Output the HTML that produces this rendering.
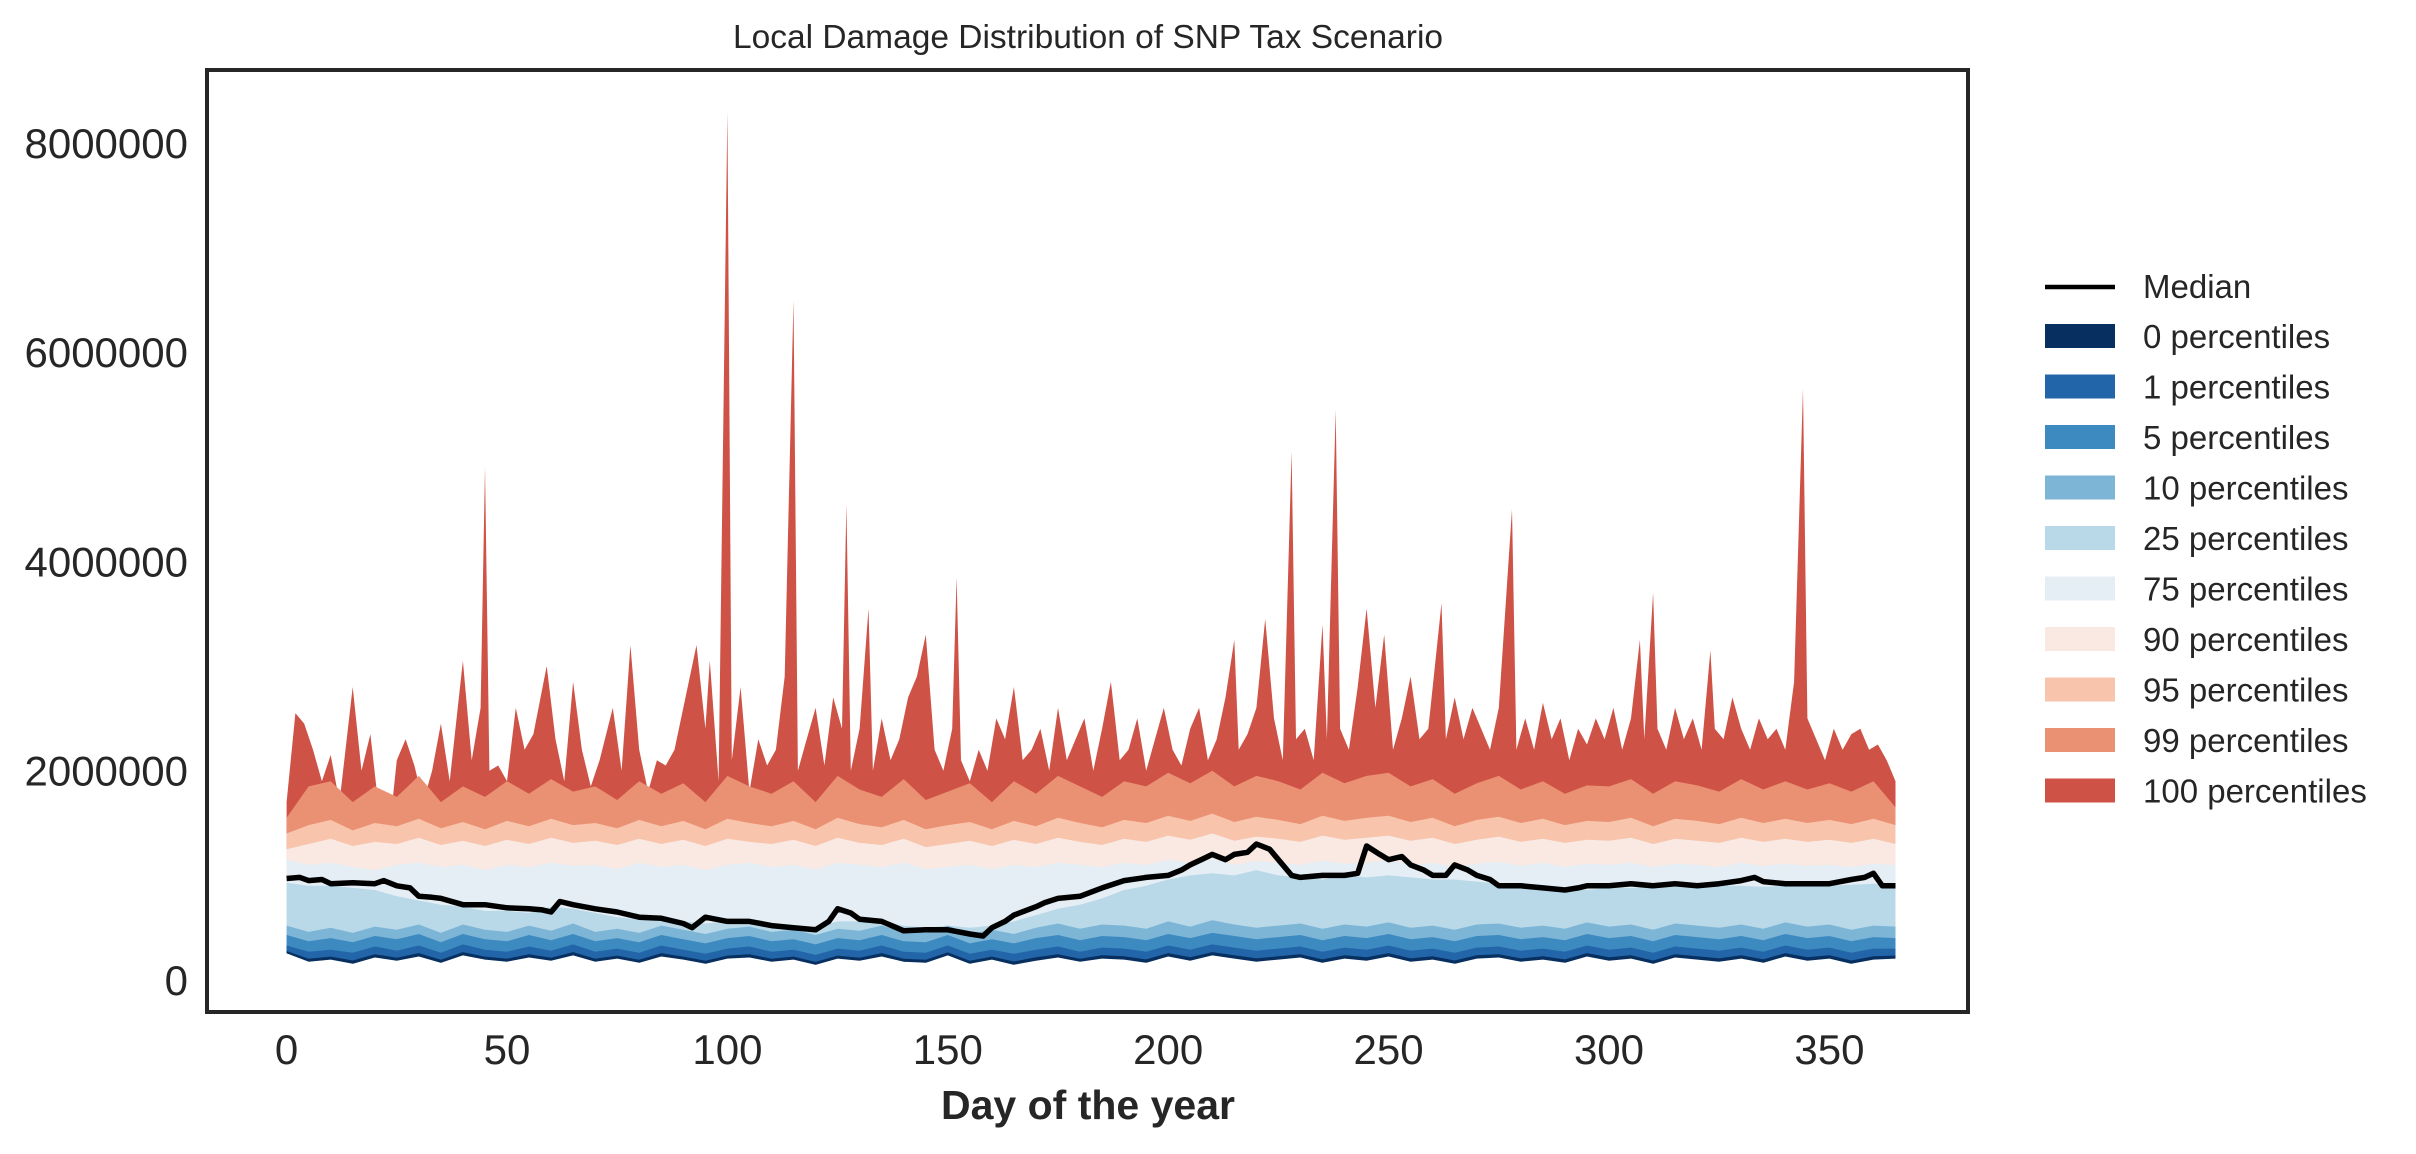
<!DOCTYPE html>
<html><head><meta charset="utf-8"><style>
html,body{margin:0;padding:0;background:#fff;}
svg text{font-family:"Liberation Sans",sans-serif;fill:#262626;}
</style></head><body>
<svg id="chart" width="2416" height="1149" viewBox="0 0 2416 1149" xmlns="http://www.w3.org/2000/svg">
<text x="1088" y="48" font-size="33.5" text-anchor="middle">Local Damage Distribution of SNP Tax Scenario</text>
<g id="bands"></g>
<g id="axes"></g>
<g id="legend"></g>
<text x="1088" y="1119" font-size="41" font-weight="bold" text-anchor="middle">Day of the year</text>
</svg>
<script>
// values in thousands
const days5 = []; for (let d = 0; d <= 365; d += 5) days5.push(d); days5[days5.length-1] = 365;
const p0Vals = [250,170,190,150,210,180,220,160,230,190, 170,210,180,230,170,200,160,220,190,150, 200,210,170,190,140,200,180,220,170,160, 230,150,190,140,180,210,170,200,190,160, 220,180,230,200,170,190,210,160,200,180, 220,170,190,150,200,210,170,190,160,220, 180,200,150,210,190,170,200,160,220,180, 200,150,190,200];
const p1Vals = [330,270,290,260,320,280,330,260,340,290, 270,320,280,340,270,300,260,330,290,250, 300,320,270,290,240,300,280,330,270,260, 330,250,290,250,290,320,270,310,300,270, 330,290,340,310,280,300,320,270,310,290, 330,280,300,260,310,320,280,300,270,330, 290,310,260,320,300,280,310,270,330,290, 310,260,300,300];
const p5Vals = [430,370,400,360,420,390,440,360,440,390, 370,430,380,440,370,400,360,430,390,350, 400,420,370,390,340,400,380,430,370,360, 430,350,390,350,400,430,380,420,410,380, 440,400,450,420,390,410,430,380,420,400, 440,390,410,370,420,430,390,410,380,440, 400,420,370,430,410,390,420,380,440,400, 420,370,410,400];
const p10Vals = [520,460,500,450,510,480,530,450,530,480, 460,520,470,540,460,490,450,520,480,440, 490,510,460,480,430,490,470,520,460,450, 520,440,480,440,500,540,490,530,520,490, 560,510,570,530,500,520,540,490,530,510, 550,500,520,480,530,540,500,520,490,550, 510,530,480,540,520,500,530,490,550,510, 530,480,520,510];
const p25Vals = [930,900,900,880,860,800,760,720,700,660, 660,640,700,680,640,600,580,560,560,540, 560,560,540,520,500,560,560,560,520,500, 520,500,520,560,620,680,720,780,860,900, 960,1000,1020,1000,1050,1000,980,960,1000,980, 1000,980,960,960,940,920,900,900,880,860, 880,880,890,890,880,900,900,890,900,900, 900,910,920,900];
const p75Vals = [1150,1100,1120,1080,1050,1100,1120,1080,1100,1050, 1100,1080,1120,1090,1100,1060,1120,1080,1100,1050, 1100,1120,1080,1100,1060,1120,1100,1080,1120,1060, 1080,1100,1060,1100,1080,1120,1100,1080,1120,1100, 1150,1120,1160,1100,1140,1120,1100,1140,1110,1120, 1150,1100,1120,1080,1110,1130,1090,1120,1080,1110, 1100,1120,1080,1110,1100,1080,1120,1090,1110,1090, 1100,1080,1110,1100];
const p90Vals = [1250,1300,1350,1280,1320,1300,1360,1290,1330,1280, 1340,1300,1360,1310,1330,1290,1350,1300,1340,1280, 1350,1320,1300,1340,1280,1360,1310,1290,1350,1270, 1300,1330,1280,1340,1300,1360,1320,1290,1350,1320, 1380,1340,1400,1330,1370,1350,1320,1380,1340,1360, 1380,1330,1360,1300,1340,1370,1320,1350,1310,1340, 1330,1360,1300,1350,1330,1310,1360,1320,1350,1320, 1340,1310,1350,1300];
const p95Vals = [1400,1480,1530,1430,1500,1470,1540,1450,1510,1440, 1520,1470,1540,1480,1500,1450,1530,1470,1520,1440, 1540,1500,1470,1520,1440,1550,1490,1460,1530,1440, 1480,1510,1440,1520,1470,1550,1500,1460,1530,1500, 1570,1520,1590,1510,1560,1530,1490,1570,1520,1550, 1570,1510,1550,1470,1530,1560,1500,1540,1480,1520, 1510,1550,1470,1540,1520,1490,1550,1500,1540,1500, 1530,1490,1540,1480];
const p99Vals = [1550,1850,1900,1700,1850,1750,1950,1700,1850,1750, 1900,1780,1920,1800,1850,1720,1900,1780,1880,1700, 1950,1850,1780,1900,1700,1950,1820,1750,1920,1720, 1800,1880,1700,1900,1780,1950,1850,1750,1900,1850, 1980,1880,2000,1850,1950,1900,1820,1980,1880,1950, 1980,1850,1920,1780,1880,1950,1820,1900,1780,1860, 1850,1920,1780,1900,1860,1800,1920,1820,1900,1820, 1880,1800,1900,1650];
const p100Days = [0,2,4,6,8,10,12,15,17,19,21,23,25,27,29,31,33,35,37,40,42,44,45,46,48,50,52,54,56,59,61,63,65,67,69,71,74,76,78,80,82,84,86,88,90,93,95,96,98,100,101,103,105,107,109,111,113,115,116,118,120,122,124,126,127,128,130,132,133,135,137,139,141,143,145,147,149,151,152,153,155,157,159,161,163,165,167,169,171,173,175,177,179,181,183,185,187,189,191,193,195,197,199,201,203,205,207,209,211,213,215,216,218,220,222,224,226,228,229,231,233,235,236,238,239,241,243,245,247,249,251,253,255,257,259,262,263,265,267,269,271,273,275,278,279,281,283,285,287,289,291,293,295,297,299,301,303,305,307,308,310,311,313,315,317,319,321,323,324,326,328,330,332,334,336,338,340,342,344,345,347,349,351,353,355,357,359,361,363,365];
const p100Vals = [1700,2550,2450,2200,1900,2150,1700,2800,2000,2350,1600,1300,2100,2300,2050,1700,2000,2450,1900,3050,2100,2600,4900,2000,2050,1900,2600,2200,2350,3000,2300,1900,2850,2200,1850,2100,2600,2000,3200,2200,1800,2100,2050,2200,2600,3200,2400,3050,1900,8300,2100,2800,1800,2300,2050,2200,2900,6500,2000,2300,2600,2050,2700,2400,4550,2000,2400,3550,2000,2500,2100,2300,2700,2900,3300,2200,2000,2400,3850,2100,1900,2200,2000,2500,2300,2800,2100,2200,2400,2000,2600,2100,2300,2500,2000,2400,2850,2100,2200,2500,2000,2300,2600,2200,2050,2400,2600,2100,2300,2700,3250,2200,2350,2600,3450,2500,2100,5050,2300,2400,2100,3400,2300,5450,2400,2200,2800,3550,2600,3300,2200,2500,2900,2300,2400,3600,2300,2700,2300,2600,2400,2200,2600,4500,2200,2500,2200,2650,2300,2500,2100,2400,2250,2500,2300,2600,2200,2500,3250,2300,3700,2400,2200,2600,2300,2500,2200,3150,2400,2300,2700,2400,2200,2500,2300,2400,2200,2850,5650,2500,2300,2100,2400,2200,2350,2400,2200,2250,2100,1900];
const medianDays = [0,3,5,8,10,15,20,22,25,28,30,33,35,40,45,50,55,58,60,62,65,70,75,80,85,90,92,95,100,105,110,115,120,123,125,128,130,135,140,145,150,155,158,160,163,165,170,172,175,180,185,190,195,200,203,205,208,210,213,215,218,220,223,225,228,230,235,240,243,245,248,250,253,255,258,260,263,265,268,270,273,275,280,285,290,293,295,300,305,310,315,320,325,330,333,335,340,345,350,355,358,360,362,365];
const medianVals = [970,980,950,960,920,930,920,950,900,880,800,790,780,720,720,690,680,670,650,750,720,680,650,600,590,540,500,600,560,560,520,500,480,560,680,640,580,560,470,480,480,440,420,500,560,620,700,740,780,800,880,950,980,1000,1050,1100,1160,1200,1150,1200,1220,1300,1250,1150,1000,980,1000,1000,1020,1280,1200,1150,1180,1100,1050,1000,1000,1100,1050,1000,960,900,900,880,860,880,900,900,920,900,920,900,920,950,980,940,920,920,920,960,980,1020,900,900];
const yTicks = [0,2000000,4000000,6000000,8000000];
const xTicks = [0,50,100,150,200,250,300,350];
const legendLabels = ["0 percentiles","1 percentiles","5 percentiles","10 percentiles","25 percentiles","75 percentiles","90 percentiles","95 percentiles","99 percentiles","100 percentiles"];

const colors = ["#072f60","#2265a8","#3d8ac0","#7cb5d6","#b9d9e9","#e5eef4","#f9e9e2","#f8c4ac","#ea9073","#cf5246"];
const X0 = 286.6, XS = 220.4/50;
const Y0 = 980, YS = 209.3/2000000;
const xs = d => X0 + d*XS;
const ys = v => Y0 - v*1000*YS;
const NS = "http://www.w3.org/2000/svg";
const bands = document.getElementById('bands');
const axes = document.getElementById('axes');
const legend = document.getElementById('legend');
const PB = 1010;

function areaPath(dx, vals){
  let s = `M${xs(dx[0]).toFixed(1)},${PB}`;
  for (let i=0;i<dx.length;i++) s += `L${xs(dx[i]).toFixed(1)},${ys(vals[i]).toFixed(1)}`;
  s += `L${xs(dx[dx.length-1]).toFixed(1)},${PB}Z`;
  return s;
}
const tops = [p1Vals,p5Vals,p10Vals,p25Vals,p75Vals,p90Vals,p95Vals,p99Vals];
{
  const p = document.createElementNS(NS,'path');
  p.setAttribute('d', areaPath(p100Days, p100Vals));
  p.setAttribute('fill', colors[9]);
  
  
  bands.appendChild(p);
}
for (let i = tops.length-1; i >= 0; i--) {
  const p = document.createElementNS(NS,'path');
  p.setAttribute('d', areaPath(days5, tops[i]));
  p.setAttribute('fill', colors[i+1]);
  
  
  bands.appendChild(p);
}
{
  const p = document.createElementNS(NS,'path');
  p.setAttribute('d', areaPath(days5, p1Vals.map((v,i)=> (v + p0Vals[i]*2)/3 )));
  p.setAttribute('fill', colors[0]);
  
  
  bands.appendChild(p);
  const w = document.createElementNS(NS,'path');
  w.setAttribute('d', areaPath(days5, p0Vals));
  w.setAttribute('fill', '#fff');
  w.setAttribute('stroke', '#fff');
  
  
  bands.appendChild(w);
}
{
  const l = document.createElementNS(NS,'polyline');
  l.setAttribute('points', medianDays.map((d,i)=>xs(d).toFixed(1)+','+ys(medianVals[i]).toFixed(1)).join(' '));
  l.setAttribute('fill','none'); l.setAttribute('stroke','#000'); l.setAttribute('stroke-width','5.5');
  l.setAttribute('stroke-linejoin','round');
  
  
  bands.appendChild(l);
}
{
  const r = document.createElementNS(NS,'rect');
  r.setAttribute('x',207); r.setAttribute('y',70); r.setAttribute('width',1761); r.setAttribute('height',942);
  r.setAttribute('fill','none'); r.setAttribute('stroke','#262626'); r.setAttribute('stroke-width','4');
  
  
  axes.appendChild(r);
}
yTicks.forEach(v=>{
  const t = document.createElementNS(NS,'text');
  t.setAttribute('x',188); t.setAttribute('y',ys(v/1000)+15); t.setAttribute('font-size','42'); t.setAttribute('text-anchor','end');
  t.textContent = String(v);
  
  
  axes.appendChild(t);
});
xTicks.forEach(v=>{
  const t = document.createElementNS(NS,'text');
  t.setAttribute('x',xs(v)); t.setAttribute('y',1064); t.setAttribute('font-size','42'); t.setAttribute('text-anchor','middle');
  t.textContent = String(v);
  
  
  axes.appendChild(t);
});
{
  const l = document.createElementNS(NS,'line');
  l.setAttribute('x1',2045); l.setAttribute('x2',2115); l.setAttribute('y1',287); l.setAttribute('y2',287);
  l.setAttribute('stroke','#000'); l.setAttribute('stroke-width','4.5');
  
  
  legend.appendChild(l);
  const t = document.createElementNS(NS,'text');
  t.setAttribute('x',2143); t.setAttribute('y',298); t.setAttribute('font-size','33');
  t.textContent = 'Median';
  
  
  legend.appendChild(t);
}
legendLabels.forEach((lab,i)=>{
  const y = 324 + i*50.5;
  const r = document.createElementNS(NS,'rect');
  r.setAttribute('x',2045); r.setAttribute('y',y); r.setAttribute('width',70); r.setAttribute('height',24);
  r.setAttribute('fill',colors[i]);
  
  
  legend.appendChild(r);
  const t = document.createElementNS(NS,'text');
  t.setAttribute('x',2143); t.setAttribute('y',y+24); t.setAttribute('font-size','33');
  t.textContent = lab;
  
  
  legend.appendChild(t);
});
</script>
</body></html>
